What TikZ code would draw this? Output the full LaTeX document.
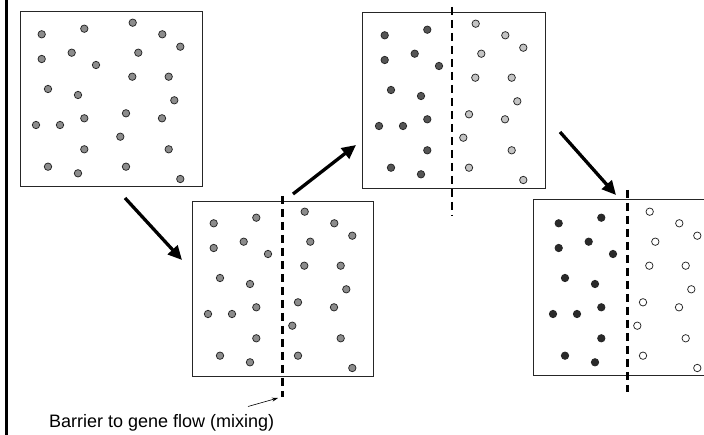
\documentclass[tikz,border=0pt]{standalone}
\usepackage{fontspec}
\setmainfont{Liberation Sans}
\usetikzlibrary{arrows.meta}
\definecolor{midgray}{HTML}{8C8C8C}
\definecolor{darkgray2}{HTML}{555555}
\definecolor{lightgray2}{HTML}{C4C4C4}
\definecolor{nearblack}{HTML}{2A2A2A}
\begin{document}
\begin{tikzpicture}[x=1pt,y=-1pt,
  boxframe/.style={draw=black!85, line width=1pt},
  barrier/.style={line width=2.9pt, dash pattern=on 8.5pt off 4.5pt},
  bigarrow/.style={line width=3.3pt, -{Triangle[length=14pt,width=13pt]}},
  dotbase/.style={draw=black!85, line width=0.75pt},
  dotmid/.style={dotbase, fill=midgray},
  dotdark/.style={dotbase, fill=darkgray2},
  dotlight/.style={dotbase, fill=lightgray2},
  dotblack/.style={dotbase, fill=nearblack},
  dotwhite/.style={dotbase, fill=white},
]
\clip (0,0) rectangle (704,435);
\fill[white] (0,0) rectangle (704,435);

% left rule
\draw[line width=2.6pt] (6.7,0) -- (6.7,435);

% boxes
\draw[boxframe] (20,12) rectangle (202,187);
\draw[boxframe] (192,202) rectangle (373,377);
\draw[boxframe] (362,13) rectangle (545,189);
\draw[boxframe] (533,200) rectangle (715,376);

% dot pattern (box-1 coordinates)
\def\leftdots{41.7/34.3, 84.3/28.7, 41.7/59, 71.7/52.7, 96/65, 48/89, 78/95, 36/125, 60/125, 84.3/118.3, 84.3/149.3, 48/166.7, 78/173.3}
\def\rightdots{132.7/22.7, 162.3/34.3, 180.3/46.7, 138.3/52.7, 132.3/76.7, 168.7/76.7, 174.3/100.3, 126/113.3, 162/118.3, 120.3/136.7, 168.7/149.3, 126/166.7, 180.3/179}
\def\dotr{3.7pt}

% box 1
\foreach \x/\y in \leftdots {\draw[dotmid] (\x,\y) circle (\dotr);}
\foreach \x/\y in \rightdots {\draw[dotmid] (\x,\y) circle (\dotr);}
% box 2
\foreach \x/\y in \leftdots {\draw[dotmid] (\x+172,\y+189) circle (\dotr);}
\foreach \x/\y in \rightdots {\draw[dotmid] (\x+172,\y+189) circle (\dotr);}
% box 3
\foreach \x/\y in \leftdots {\draw[dotdark] (\x+343,\y+1) circle (\dotr);}
\foreach \x/\y in \rightdots {\draw[dotlight] (\x+343,\y+1) circle (\dotr);}
% box 4
\foreach \x/\y in \leftdots {\draw[dotblack] (\x+517,\y+189) circle (\dotr);}
\foreach \x/\y in \rightdots {\draw[dotwhite] (\x+517,\y+189) circle (\dotr);}

% barriers
\coordinate (b2t) at (282.7,196);
\coordinate (b2b) at (282.7,397);
\coordinate (b3t) at (452,7);
\coordinate (b3b) at (452,216);
\coordinate (b4t) at (627.3,190);
\coordinate (b4b) at (627.3,392);
\draw[barrier] (b2t) -- (b2b);
\draw[barrier] (b3t) -- (b3b);
\draw[barrier] (b4t) -- (b4b);

% arrows between stages
\coordinate (a1s) at (125,198);
\coordinate (a1e) at (182,260);
\coordinate (a2s) at (293,194);
\coordinate (a2e) at (356,145);
\coordinate (a3s) at (560,132);
\coordinate (a3e) at (616,195);
\draw[bigarrow] (a1s) -- (a1e);
\draw[bigarrow] (a2s) -- (a2e);
\draw[bigarrow] (a3s) -- (a3e);

% label
\node[inner sep=0pt, anchor=west, font=\fontsize{18}{21}\selectfont] (lbl) at (49,423) {Barrier to gene flow (mixing)};
\coordinate (lblarrow) at (278,398);
\draw[line width=0.6pt, -{Stealth[length=6pt,width=4pt]}] (248,406.5) -- (lblarrow);
\end{tikzpicture}
\end{document}
